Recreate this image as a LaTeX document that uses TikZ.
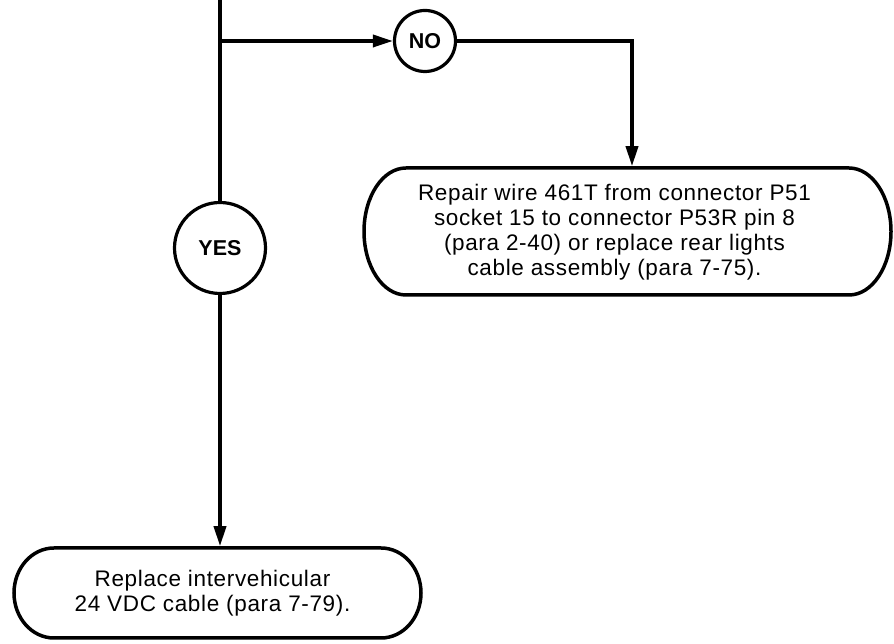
\documentclass[tikz,border=0pt]{standalone}
\usepackage{fontspec}
\setmainfont{Liberation Sans}
\newfontfamily\boxfont[LetterSpace=2.9]{Liberation Sans}
\usetikzlibrary{arrows.meta}
\begin{document}
\begin{tikzpicture}[x=1pt,y=1pt,
  line width=3.5pt,
  flow/.style={-{Triangle[length=20pt,width=12pt]}},
  decision/.style={circle,draw,line width=3.2pt,inner sep=0pt,font=\fontsize{21.5}{23}\selectfont\bfseries},
  termbox/.style={inner sep=0pt,outer sep=0pt},
  termtext/.style={inner sep=0pt,outer sep=0pt,align=center,font=\boxfont\fontsize{22.5}{25}\selectfont}
]
\useasboundingbox (0,0) rectangle (894,644);
\coordinate (top) at (220,644);
\coordinate (jn) at (220,603);
\node[decision,minimum size=61pt] (no) at (425,603) {NO};
\node[decision,minimum size=91pt] (yes) at (220,396) {YES};
% right terminal
\node[termbox,minimum width=527pt,minimum height=127pt] (rep) at (627.5,412.5) {};
\node[termtext] (reptext) at ([xshift=-13pt,yshift=-1pt]rep.center)
  {Repair wire 461T from connector P51\\socket 15 to connector P53R pin 8\\(para 2-40) or replace rear lights\\cable assembly (para 7-75).};
\draw ([xshift=42pt]rep.north west) -- ([xshift=-42pt]rep.north east)
  arc[start angle=90,end angle=-90,x radius=42pt,y radius=63.5pt]
  -- ([xshift=42pt]rep.south west)
  arc[start angle=270,end angle=90,x radius=42pt,y radius=63.5pt] -- cycle;
% bottom terminal
\node[termbox,minimum width=407pt,minimum height=90pt] (rpl) at (217.5,51) {};
\node[termtext] (rpltext) at ([xshift=-5pt]rpl.center)
  {Replace intervehicular\\24 VDC cable (para 7-79).};
\draw ([xshift=40pt]rpl.north west) -- ([xshift=-40pt]rpl.north east)
  arc[start angle=90,end angle=-90,x radius=40pt,y radius=45pt]
  -- ([xshift=40pt]rpl.south west)
  arc[start angle=270,end angle=90,x radius=40pt,y radius=45pt] -- cycle;
% connectors
\draw (top) -- (yes.north);
\draw[flow] (jn) -- (no.west);
\draw[flow] (no.east) -| ([xshift=4.5pt,yshift=1.75pt]rep.north);
\draw[flow] (yes.south) -- ([yshift=1.75pt]yes.south |- rpl.north);
\end{tikzpicture}
\end{document}
